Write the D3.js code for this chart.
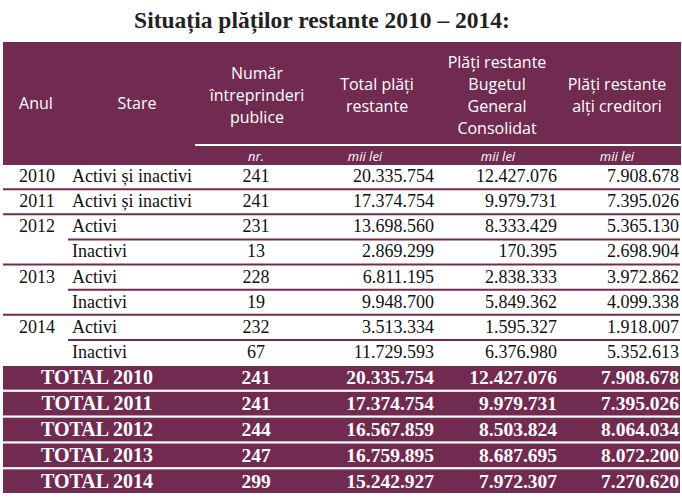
<!DOCTYPE html>
<html>
<head>
<meta charset="utf-8">
<script src="https://cdn.jsdelivr.net/npm/d3@7"></script>
<style>
  html, body { margin: 0; padding: 0; background: #ffffff; }
  svg { display: block; }
</style>
</head>
<body>
<svg id="chart" width="682" height="498"></svg>
<script>
// ---- data ----
const title = "Situația plăților restante 2010 – 2014:";
const headers = [
  ["Anul"],
  ["Stare"],
  ["Număr", "întreprinderi", "publice"],
  ["Total plăți", "restante"],
  ["Plăți restante", "Bugetul", "General", "Consolidat"],
  ["Plăți restante", "alți creditori"]
];
const units = ["", "", "nr.", "mii lei", "mii lei", "mii lei"];

const years  = ["2010", "2011", "2012", "", "2013", "", "2014", ""];
const stare  = ["Activi și inactivi", "Activi și inactivi", "Activi", "Inactivi", "Activi", "Inactivi", "Activi", "Inactivi"];
const numar  = [241, 241, 231, 13, 228, 19, 232, 67];
const total  = [20335754, 17374754, 13698560, 2869299, 6811195, 9948700, 3513334, 11729593];
const buget  = [12427076, 9979731, 8333429, 170395, 2838333, 5849362, 1595327, 6376980];
const altii  = [7908678, 7395026, 5365130, 2698904, 3972862, 4099338, 1918007, 5352613];

const totalLabels = ["TOTAL 2010", "TOTAL 2011", "TOTAL 2012", "TOTAL 2013", "TOTAL 2014"];
const totNumar = [241, 241, 244, 247, 299];
const totTotal = [20335754, 17374754, 16567859, 16759895, 15242927];
const totBuget = [12427076, 9979731, 8503824, 8687695, 7972307];
const totAltii = [7908678, 7395026, 8064034, 8072200, 7270620];

// ---- layout ----
const PURPLE = "#722b50";
const SERIF = "'Liberation Serif', 'Times New Roman', serif";
const SANS = "'Open Sans', 'Noto Sans', sans-serif";
const left = 3, right = 681;
const headTop = 42, headBottom = 165, bodyBottom = 366, totalBottom = 493;

const ro = d3.formatLocale({ decimal: ",", thousands: ".", grouping: [3], currency: ["", ""] });
const fmt = ro.format(",d");

const svg = d3.select("#chart");

// column scale (anchor x positions)
const colKeys = ["anul", "stare", "numar", "total", "buget", "altii"];
const headX = d3.scaleOrdinal().domain(colKeys).range([36, 137, 257, 377, 497, 617]);
const unitX = d3.scaleOrdinal().domain(colKeys).range([36, 137, 256, 365, 498, 617]);
const cellX = d3.scaleOrdinal().domain(colKeys).range([37, 72, 256, 434, 557, 679]);
const cellAnchor = d3.scaleOrdinal().domain(colKeys).range(["middle", "start", "middle", "end", "end", "end"]);

// title
svg.append("text")
  .attr("x", 322).attr("y", 28)
  .attr("text-anchor", "middle")
  .style("font-family", SERIF).style("font-weight", "bold").style("font-size", "23.5px")
  .attr("fill", "#222")
  .text(title);

// header block
svg.append("rect")
  .attr("x", left).attr("y", headTop)
  .attr("width", right - left).attr("height", headBottom - headTop)
  .attr("fill", PURPLE);

svg.append("line")
  .attr("x1", 195).attr("x2", right)
  .attr("y1", 145).attr("y2", 145)
  .attr("stroke", "#fff").attr("stroke-width", 2);

const lineH = 22;
const headMid = 95;
headers.forEach((lines, i) => {
  const k = colKeys[i];
  const t = svg.append("text")
    .attr("text-anchor", "middle")
    .style("font-family", SANS).style("font-size", "16px")
    .attr("fill", "#fff");
  const mid = lines.length === 1 ? 103 : headMid;
  lines.forEach((ln, j) => {
    t.append("tspan")
      .attr("x", headX(k))
      .attr("y", mid + 5.5 + (j - (lines.length - 1) / 2) * lineH)
      .text(ln);
  });
});

units.forEach((u, i) => {
  if (!u) return;
  svg.append("text")
    .attr("x", unitX(colKeys[i])).attr("y", 161)
    .attr("text-anchor", "middle")
    .style("font-family", SANS).style("font-style", "italic").style("font-size", "13px")
    .attr("fill", "#fff")
    .text(u);
});

// body rows
const yBody = d3.scaleBand().domain(d3.range(years.length)).range([headBottom, bodyBottom]);
const rows = d3.range(years.length).map(i => ({
  i, anul: years[i], stare: stare[i], numar: fmt(numar[i]),
  total: fmt(total[i]), buget: fmt(buget[i]), altii: fmt(altii[i])
}));

// separator lines
const sep = svg.append("g");
rows.forEach((r, i) => {
  if (i === rows.length - 1) return;
  const sameGroup = years[i + 1] === "";
  sep.append("line")
    .attr("x1", sameGroup ? 68 : left).attr("x2", right - 1)
    .attr("y1", yBody(i) + yBody.bandwidth() - 1)
    .attr("y2", yBody(i) + yBody.bandwidth() - 1)
    .attr("stroke", PURPLE).attr("stroke-width", 2);
});

const bodyG = svg.append("g");
rows.forEach(r => {
  colKeys.forEach(k => {
    if (!r[k]) return;
    bodyG.append("text")
      .attr("x", cellX(k))
      .attr("y", yBody(r.i) + 17)
      .attr("text-anchor", cellAnchor(k))
      .style("font-family", SERIF).style("font-size", "18px")
      .attr("fill", "#111")
      .text(r[k]);
  });
});

// total rows
const yTot = d3.scaleBand().domain(d3.range(totalLabels.length)).range([bodyBottom, totalBottom]).paddingInner(0.085);
const tots = d3.range(totalLabels.length).map(i => ({
  i, label: totalLabels[i], numar: fmt(totNumar[i]),
  total: fmt(totTotal[i]), buget: fmt(totBuget[i]), altii: fmt(totAltii[i])
}));

svg.append("g").selectAll("rect").data(tots).join("rect")
  .attr("x", left).attr("width", right - 1 - left)
  .attr("y", d => yTot(d.i)).attr("height", yTot.bandwidth())
  .attr("fill", PURPLE);

const totG = svg.append("g");
tots.forEach(d => {
  const yy = yTot(d.i) + yTot.bandwidth() / 2 + 6.5;
  totG.append("text")
    .attr("x", 97).attr("y", yy)
    .attr("text-anchor", "middle")
    .style("font-family", SERIF).style("font-weight", "bold").style("font-size", "20px")
    .attr("fill", "#fff")
    .text(d.label);
  ["numar", "total", "buget", "altii"].forEach(k => {
    totG.append("text")
      .attr("x", cellX(k)).attr("y", yy)
      .attr("text-anchor", cellAnchor(k))
      .style("font-family", SERIF).style("font-weight", "bold").style("font-size", "19.5px")
      .attr("fill", "#fff")
      .text(d[k]);
  });
});
</script>
</body>
</html>
